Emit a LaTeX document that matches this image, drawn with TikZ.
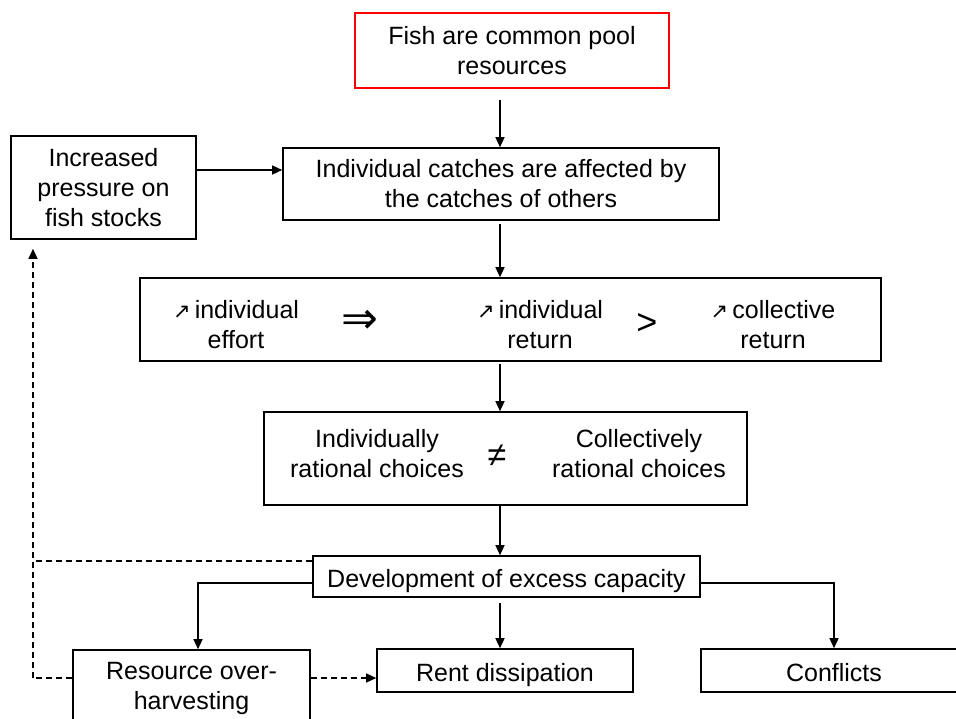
\documentclass[tikz,border=0pt]{standalone}
\usepackage{fontspec}
\setmainfont{Liberation Sans}
\newfontfamily\symfont{DejaVu Sans}
\usetikzlibrary{arrows.meta}
\newcommand{\up}{{\symfont\fontsize{21}{21}\selectfont ↗}\,}
\begin{document}
\begin{tikzpicture}[x=1pt,y=-1pt,
  every node/.style={font=\fontsize{25}{30}\selectfont, align=center, inner sep=0pt},
  one/.style={text height=26pt, text depth=5pt},
  box/.style={draw, line width=1.6pt, rectangle},
  redbox/.style={draw=red, line width=2pt, rectangle},
  tip/.style={-{Triangle[length=10pt,width=9pt]}},
  arr/.style={line width=1.4pt, tip},
  dsh/.style={line width=1.3pt, dash pattern=on 6pt off 4pt}]
\useasboundingbox (0,0) rectangle (956,718);
\clip (0,0) rectangle (956,718);
\fill[white] (0,0) rectangle (956,718);

% boxes
\node[redbox, minimum width=314, minimum height=75] (fish) at (512,50.5) {Fish are common pool\\resources};
\node[box, minimum width=185, minimum height=103] (inc) at (103.5,187.5) {Increased\\pressure on\\fish stocks};
\node[box, minimum width=436, minimum height=72] (catch) at (501,184) {Individual catches are affected by\\the catches of others};
\node[box, minimum width=741, minimum height=83] (row) at (510.5,319.5) {};
\node[box, minimum width=483, minimum height=93] (ratio) at (505.5,458.5) {};
\node[box, one, minimum width=387, minimum height=41] (dev) at (506.5,576.5) {Development of excess capacity};
\node[box, minimum width=237, minimum height=76] (res) at (191.5,688) {Resource over-\\harvesting};
\node[box, one, minimum width=256, minimum height=43] (rent) at (505,670.5) {Rent dissipation};
\node[box, one, minimum width=266, minimum height=43] (conf) at (834,670.5) {Conflicts};

% contents of the effort/return box
\node (ef) at (236,325) {\up individual\\effort};
\node[font=\symfont\fontsize{44}{44}\selectfont] (impl) at (360,322) {⇒};
\node (ir) at (540,325) {\up individual\\return};
\node[font=\fontsize{36}{36}\selectfont] (gt) at (647,324) {>};
\node (cr) at (773,325) {\up collective\\return};

% contents of the rational choices box
\node (ic) at (377,454) {Individually\\rational choices};
\node[font=\fontsize{34}{34}\selectfont] (neq) at (497,456) {≠};
\node (cc) at (639,454) {Collectively\\rational choices};

% routing points
\coordinate (col) at (500,0);
\coordinate (hin) at (0,170);
\coordinate (lb) at (198,583);
\coordinate (dtop) at (33,561);
\coordinate (dbot) at (33,678);

% main chain
\draw[arr, shorten <=11pt] (fish.south -| col) -- (catch.north -| col);
\draw[arr] (inc.east |- hin) -- (catch.west |- hin);
\draw[arr, shorten <=3pt] (catch.south -| col) -- (row.north -| col);
\draw[arr, shorten <=2pt] (row.south -| col) -- (ratio.north -| col);
\draw[arr] (ratio.south -| col) -- (dev.north -| col);

% branches of excess capacity
\draw[arr] (dev.west |- lb) -| (res.north -| lb);
\draw[arr, shorten <=5pt] (dev.south -| col) -- (rent.north -| col);
\draw[arr] (dev.east |- lb) -| (conf.north);

% feedback loops
\draw[dsh] (dev.west |- dtop) -- (dtop);
\draw[dsh] (res.west |- dbot) -- (dbot);
\draw[dsh, tip, shorten >=9pt] (dbot) -- (inc.south -| dbot);
\draw[dsh, tip] (res.east |- dbot) -- (rent.west |- dbot);
\end{tikzpicture}
\end{document}
